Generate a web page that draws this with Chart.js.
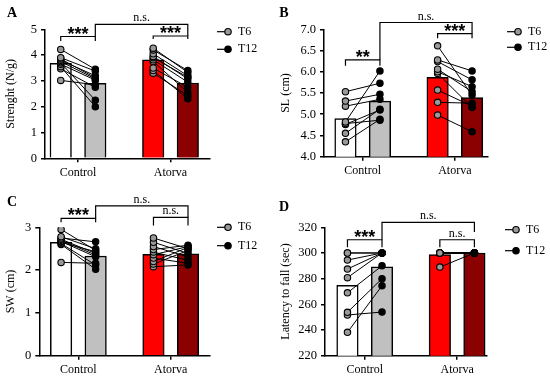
<!DOCTYPE html>
<html>
<head>
<meta charset="utf-8">
<script src="https://cdn.jsdelivr.net/npm/chart.js@4.4.1/dist/chart.umd.min.js"></script>
<style>
  html, body { margin: 0; padding: 0; background: #fff; }
  #wrap { position: relative; width: 550px; height: 378px; }
  #wrap canvas { position: absolute; }
</style>
</head>
<body>
<div id="wrap">
  <canvas id="chartA" width="275" height="189" style="left:0;top:0"></canvas>
  <canvas id="chartB" width="275" height="189" style="left:275px;top:0"></canvas>
  <canvas id="chartC" width="275" height="189" style="left:0;top:189px"></canvas>
  <canvas id="chartD" width="275" height="189" style="left:275px;top:189px"></canvas>
</div>
<script>
const groups = ['Control', 'Atorva'];

// A - grip strength (N/g), paired T6 -> T12
const strengthControlT6 = [4.22, 3.90, 3.85, 3.80, 3.75, 3.70, 3.65, 3.55, 3.47, 3.02];
const strengthControlT12 = [3.45, 3.38, 3.12, 3.20, 3.08, 2.25, 3.03, 2.00, 2.75, 2.85];
const strengthAtorvaT6 = [4.27, 4.20, 4.05, 3.95, 3.90, 3.82, 3.75, 3.50, 3.40, 3.30];
const strengthAtorvaT12 = [3.33, 3.40, 3.20, 3.08, 3.14, 2.95, 2.56, 2.75, 2.31, 2.43];
const strengthMeansT6 = [3.68, 3.82];
const strengthMeansT12 = [2.91, 2.92];

// B - SL (cm)
const slControlT6 = [5.53, 5.31, 5.19, 4.82, 4.78, 4.76, 4.55, 4.35];
const slControlT12 = [5.73, 5.47, 5.35, 6.02, 4.86, 5.10, 5.12, 4.88];
const slAtorvaT6 = [6.61, 6.28, 6.24, 6.06, 6.00, 5.96, 5.57, 5.28, 4.98];
const slAtorvaT12 = [5.45, 6.02, 5.81, 5.53, 5.65, 5.16, 5.19, 5.26, 4.59];
const slMeansT6 = [4.90, 5.87];
const slMeansT12 = [5.31, 5.39];

// C - SW (cm)
const swControlT6 = [2.95, 2.78, 2.75, 2.72, 2.70, 2.67, 2.65, 2.62, 2.60, 2.18];
const swControlT12 = [2.46, 2.50, 2.66, 2.39, 2.35, 2.31, 2.43, 2.12, 2.02, 2.16];
const swAtorvaT6 = [2.75, 2.65, 2.55, 2.48, 2.42, 2.36, 2.28, 2.20, 2.14, 2.08];
const swAtorvaT12 = [2.50, 2.39, 2.31, 2.58, 2.23, 2.55, 2.16, 2.53, 2.46, 2.12];
const swMeansT6 = [2.65, 2.37];
const swMeansT12 = [2.33, 2.38];

// D - latency to fall (sec)
const latControlT6 = [300, 300, 294.5, 287.5, 280.8, 269, 253.8, 251.7, 238.2];
const latControlT12 = [300, 300, 300, 300, 300, 290, 280, 254, 274.5];
const latAtorvaT6 = [300, 300, 300, 300, 300, 300, 300, 300, 289];
const latAtorvaT12 = [300, 300, 300, 300, 300, 300, 300, 300, 300];
const latMeansT6 = [274.8, 298.8];
const latMeansT12 = [289.3, 300];

const OFF = 0.187; // half distance between T6 and T12 bars, in category units

Chart.defaults.font.family = '"Liberation Serif", serif';
Chart.defaults.font.size = 12;
Chart.defaults.color = '#000';

const panelDecor = {
    id: 'panelDecor',
    afterDatasetsDraw(chart, args, o) {
        const ctx = chart.ctx;
        const xs = chart.scales.x, ys = chart.scales.y;
        ctx.save();
        ctx.strokeStyle = '#000';
        ctx.fillStyle = '#000';
        ctx.lineWidth = 1.2;
        ctx.textAlign = 'center';
        ctx.textBaseline = 'alphabetic';
        o.brackets.forEach(b => {
            const x1 = xs.getPixelForValue(b.x1), x2 = xs.getPixelForValue(b.x2);
            const y = ys.getPixelForValue(b.y);
            ctx.beginPath();
            ctx.moveTo(x1, ys.getPixelForValue(b.y1));
            ctx.lineTo(x1, y);
            ctx.lineTo(x2, y);
            ctx.lineTo(x2, ys.getPixelForValue(b.y2));
            ctx.stroke();
            const cx = (x1 + x2) / 2;
            if (b.text === 'n.s.') {
                ctx.font = '12px "Liberation Serif"';
                ctx.fillText(b.text, cx, y - 3);
            } else {
                // asterisk glyph sits high above its baseline
                ctx.font = 'bold 18px "Liberation Sans"';
                ctx.fillText(b.text, cx, y + 3);
            }
        });

        // legend
        const lg = o.legend;
        ['T6', 'T12'].forEach((name, i) => {
            const y = lg.y[i];
            ctx.beginPath();
            ctx.lineWidth = 1.2;
            ctx.moveTo(lg.x, y);
            ctx.lineTo(lg.x + 11, y);
            ctx.stroke();
            ctx.beginPath();
            ctx.arc(lg.x + 11, y, 3.2, 0, Math.PI * 2);
            ctx.fillStyle = i === 0 ? '#999' : '#000';
            ctx.fill();
            ctx.stroke();
            ctx.fillStyle = '#000';
            ctx.font = '12px "Liberation Serif"';
            ctx.textAlign = 'left';
            ctx.textBaseline = 'middle';
            ctx.fillText(name, lg.x + 21, y);
        });

        // panel letter
        ctx.font = 'bold 14px "Liberation Serif"';
        ctx.textAlign = 'center';
        ctx.textBaseline = 'middle';
        ctx.fillText(o.letter, o.letterPos[0], o.letterPos[1]);
        ctx.restore();
    }
};

function pairedLines(t6, t12, g) {
    return t6.map((v, i) => ({
        type: 'line',
        data: [{x: g - OFF, y: v}, {x: g + OFF, y: t12[i]}],
        borderColor: '#000',
        borderWidth: 1,
        pointRadius: 3.2,
        pointBorderWidth: 1.1,
        pointBorderColor: '#000',
        pointBackgroundColor: ['#999', '#000'],
        tension: 0,
        order: 1
    }));
}

function buildPanel(id, p) {
    const ctx = document.getElementById(id).getContext('2d');
    const datasets = [
        {
            type: 'bar',
            label: 'T6',
            data: groups.map((g, i) => ({x: i - OFF, y: p.meansT6[i]})),
            backgroundColor: ['#ffffff', '#ff0000'],
            borderColor: '#000',
            borderWidth: 1.5,
            barThickness: 21.5,
            grouped: false,
            order: 2
        },
        {
            type: 'bar',
            label: 'T12',
            data: groups.map((g, i) => ({x: i + OFF, y: p.meansT12[i]})),
            backgroundColor: ['#c0c0c0', '#8b0000'],
            borderColor: '#000',
            borderWidth: 1.5,
            barThickness: 21.5,
            grouped: false,
            order: 2
        },
        ...pairedLines(p.ctrlT6, p.ctrlT12, 0),
        ...pairedLines(p.atorT6, p.atorT12, 1)
    ];

    return new Chart(ctx, {
        type: 'bar',
        data: { datasets },
        plugins: [panelDecor],
        options: {
            responsive: false,
            animation: false,
            layout: {
                padding: { top: p.area.top, right: 275 - p.area.right, left: 0, bottom: 0 }
            },
            plugins: {
                legend: { display: false },
                tooltip: { enabled: false },
                panelDecor: {
                    brackets: p.brackets,
                    legend: p.legend,
                    letter: p.letter,
                    letterPos: p.letterPos
                }
            },
            scales: {
                x: {
                    type: 'linear',
                    min: p.xMin,
                    max: p.xMax,
                    offset: false,
                    afterBuildTicks: (scale) => { scale.ticks = [{value: 0}, {value: 1}]; },
                    afterFit: (scale) => { scale.height = 189 - p.area.bottom; },
                    ticks: {
                        autoSkip: false,
                        maxRotation: 0,
                        padding: 3,
                        callback: (v) => groups[v]
                    },
                    grid: { offset: false, drawOnChartArea: false, color: '#000', lineWidth: 1.5, tickLength: 4 },
                    border: { color: '#000', width: 1.5 }
                },
                y: {
                    min: p.yMin,
                    max: p.yMax,
                    afterFit: (scale) => { scale.width = p.area.left; },
                    ticks: {
                        stepSize: p.yStep,
                        padding: 4,
                        font: { size: 12.5 },
                        callback: (v) => v.toFixed(p.yDecimals)
                    },
                    title: {
                        display: true,
                        text: p.yTitle,
                        padding: { top: 4, bottom: 0 }
                    },
                    grid: { drawOnChartArea: false, color: '#000', lineWidth: 1.5, tickLength: 4 },
                    border: { color: '#000', width: 1.5 }
                }
            }
        }
    });
}

buildPanel('chartA', {
    ctrlT6: strengthControlT6, ctrlT12: strengthControlT12,
    atorT6: strengthAtorvaT6, atorT12: strengthAtorvaT12,
    meansT6: strengthMeansT6, meansT12: strengthMeansT12,
    yMin: 0, yMax: 5, yStep: 1, yDecimals: 0, yTitle: 'Strenght (N/g)',
    xMin: -0.357, xMax: 1.427,
    area: { left: 45, right: 210, top: 29.3, bottom: 158.3 },
    brackets: [
        { x1: -OFF, x2: OFF, y: 4.72, y1: 4.55, y2: 4.55, text: '***' },
        { x1: 1 - OFF, x2: 1 + OFF, y: 4.74, y1: 4.62, y2: 4.62, text: '***' },
        { x1: OFF, x2: 1 + OFF, y: 5.19, y1: 4.72, y2: 4.74, text: 'n.s.' }
    ],
    legend: { x: 217, y: [31.7, 49.3] },
    letter: 'A', letterPos: [12, 13]
});

buildPanel('chartB', {
    ctrlT6: slControlT6, ctrlT12: slControlT12,
    atorT6: slAtorvaT6, atorT12: slAtorvaT12,
    meansT6: slMeansT6, meansT12: slMeansT12,
    yMin: 4, yMax: 7, yStep: 0.5, yDecimals: 1, yTitle: 'SL (cm)',
    xMin: -0.42, xMax: 1.36,
    area: { left: 49, right: 213, top: 29.3, bottom: 156.7 },
    brackets: [
        { x1: -OFF, x2: OFF, y: 6.28, y1: 6.14, y2: 6.14, text: '**' },
        { x1: 1 - OFF, x2: 1 + OFF, y: 6.9, y1: 6.79, y2: 6.79, text: '***' },
        { x1: OFF, x2: 1 + OFF, y: 7.16, y1: 6.28, y2: 6.9, text: 'n.s.' }
    ],
    legend: { x: 232, y: [31.7, 47.3] },
    letter: 'B', letterPos: [9, 13]
});

buildPanel('chartC', {
    ctrlT6: swControlT6, ctrlT12: swControlT12,
    atorT6: swAtorvaT6, atorT12: swAtorvaT12,
    meansT6: swMeansT6, meansT12: swMeansT12,
    yMin: 0, yMax: 3, yStep: 1, yDecimals: 0, yTitle: 'SW (cm)',
    xMin: -0.423, xMax: 1.425,
    area: { left: 39.3, right: 210, top: 38.3, bottom: 166.7 },
    brackets: [
        { x1: -OFF, x2: OFF, y: 3.21, y1: 3.12, y2: 3.12, text: '***' },
        { x1: 1 - OFF, x2: 1 + OFF, y: 3.23, y1: 3.04, y2: 3.04, text: 'n.s.' },
        { x1: OFF, x2: 1 + OFF, y: 3.5, y1: 3.21, y2: 3.23, text: 'n.s.' }
    ],
    legend: { x: 217, y: [38.3, 56.7] },
    letter: 'C', letterPos: [12, 13]
});

buildPanel('chartD', {
    ctrlT6: latControlT6, ctrlT12: latControlT12,
    atorT6: latAtorvaT6, atorT12: latAtorvaT12,
    meansT6: latMeansT6, meansT12: latMeansT12,
    yMin: 220, yMax: 320, yStep: 20, yDecimals: 0, yTitle: 'Latency to fall (sec)',
    xMin: -0.43, xMax: 1.32,
    area: { left: 50, right: 211.7, top: 38.3, bottom: 166.7 },
    brackets: [
        { x1: -OFF, x2: OFF, y: 310.3, y1: 304.4, y2: 304.4, text: '***' },
        { x1: 1 - OFF, x2: 1 + OFF, y: 310.3, y1: 304.4, y2: 304.4, text: 'n.s.' },
        { x1: OFF, x2: 1 + OFF, y: 323.9, y1: 310.3, y2: 316.4, text: 'n.s.' }
    ],
    legend: { x: 230, y: [40.7, 61.7] },
    letter: 'D', letterPos: [9, 18]
});
</script>
</body>
</html>
